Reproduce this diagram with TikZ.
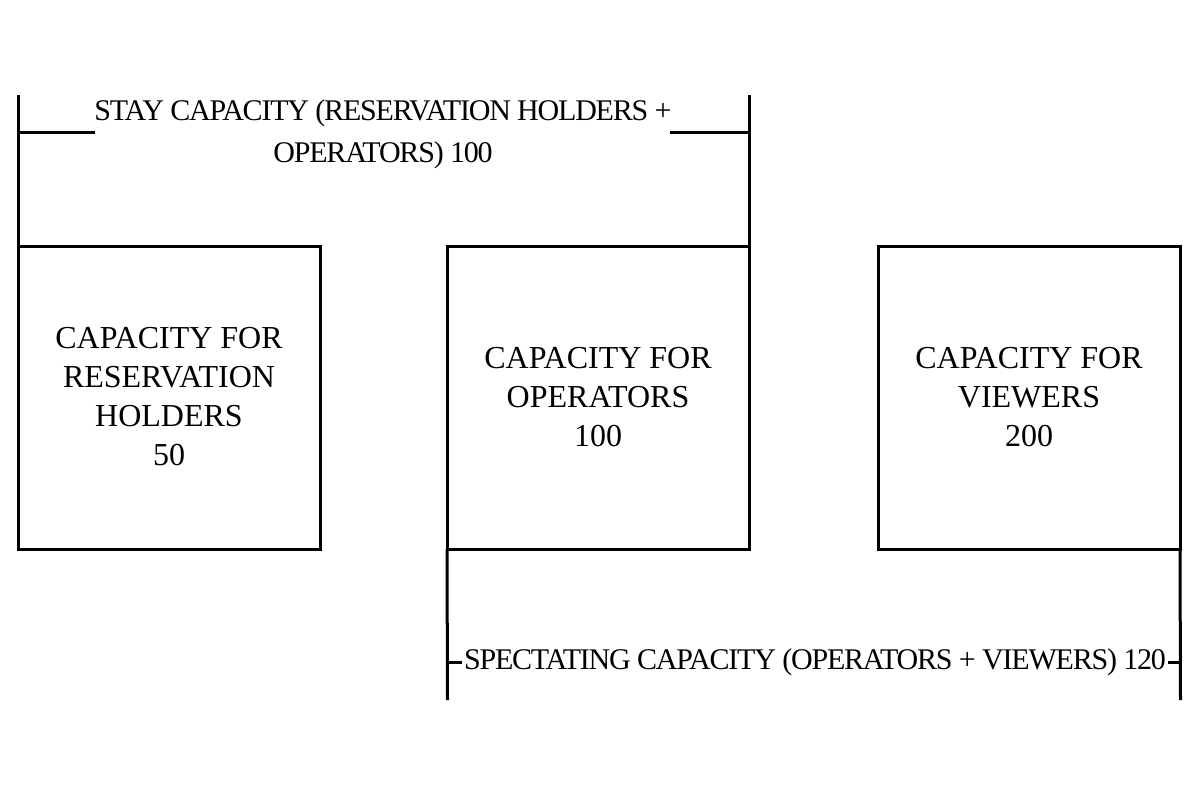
\documentclass[tikz,border=0pt]{standalone}
\usepackage{fontspec}
\setmainfont{Liberation Serif}
\begin{document}
\begin{tikzpicture}[x=0.5pt,y=-0.5pt,
  ln/.style={line width=1.5pt},
  box/.style={ln,draw,minimum width=151pt,minimum height=151.5pt,inner sep=0pt,outer sep=0pt},
  bt/.style={align=center,font=\fontsize{16}{19.5}\selectfont},
  lt/.style={align=center,font=\fontsize{15}{21}\selectfont\addfontfeatures{LetterSpace=-4}}]
\useasboundingbox (0,0) rectangle (1200,800);
\node[box] (b1) at (169,397.5) {};
\node[box] (b2) at (598,397.5) {};
\node[box] (b3) at (1029,397.5) {};
\node[bt] at (169,397) {CAPACITY FOR\\RESERVATION\\HOLDERS\\50};
\node[bt] at (598,397) {CAPACITY FOR\\OPERATORS\\100};
\node[bt] at (1029,397) {CAPACITY FOR\\VIEWERS\\200};
\coordinate (t1) at (18,95); \coordinate (t2) at (749,95);
\draw[ln] (t1) -- (b1.north west);
\draw[ln] (t2) -- (b2.north east);
\node[lt] (st) at (383,134) {STAY CAPACITY (RESERVATION HOLDERS +\\OPERATORS) 100};
\draw[ln] (18,132) -- (95,132);
\draw[ln] (670,132) -- (749,132);
\coordinate (u1) at (447.5,700); \coordinate (u2) at (1180.5,700);
\draw[ln] (b2.south west) -- (u1);
\draw[ln] (b3.south east) -- (u2);
\node[lt,inner sep=1pt] (sp) at (815,662) {SPECTATING CAPACITY (OPERATORS + VIEWERS) 120};
\draw[ln] (447.5,662) -- (sp.west);
\draw[ln] (sp.east) -- (1180.5,662);
\end{tikzpicture}
\end{document}
